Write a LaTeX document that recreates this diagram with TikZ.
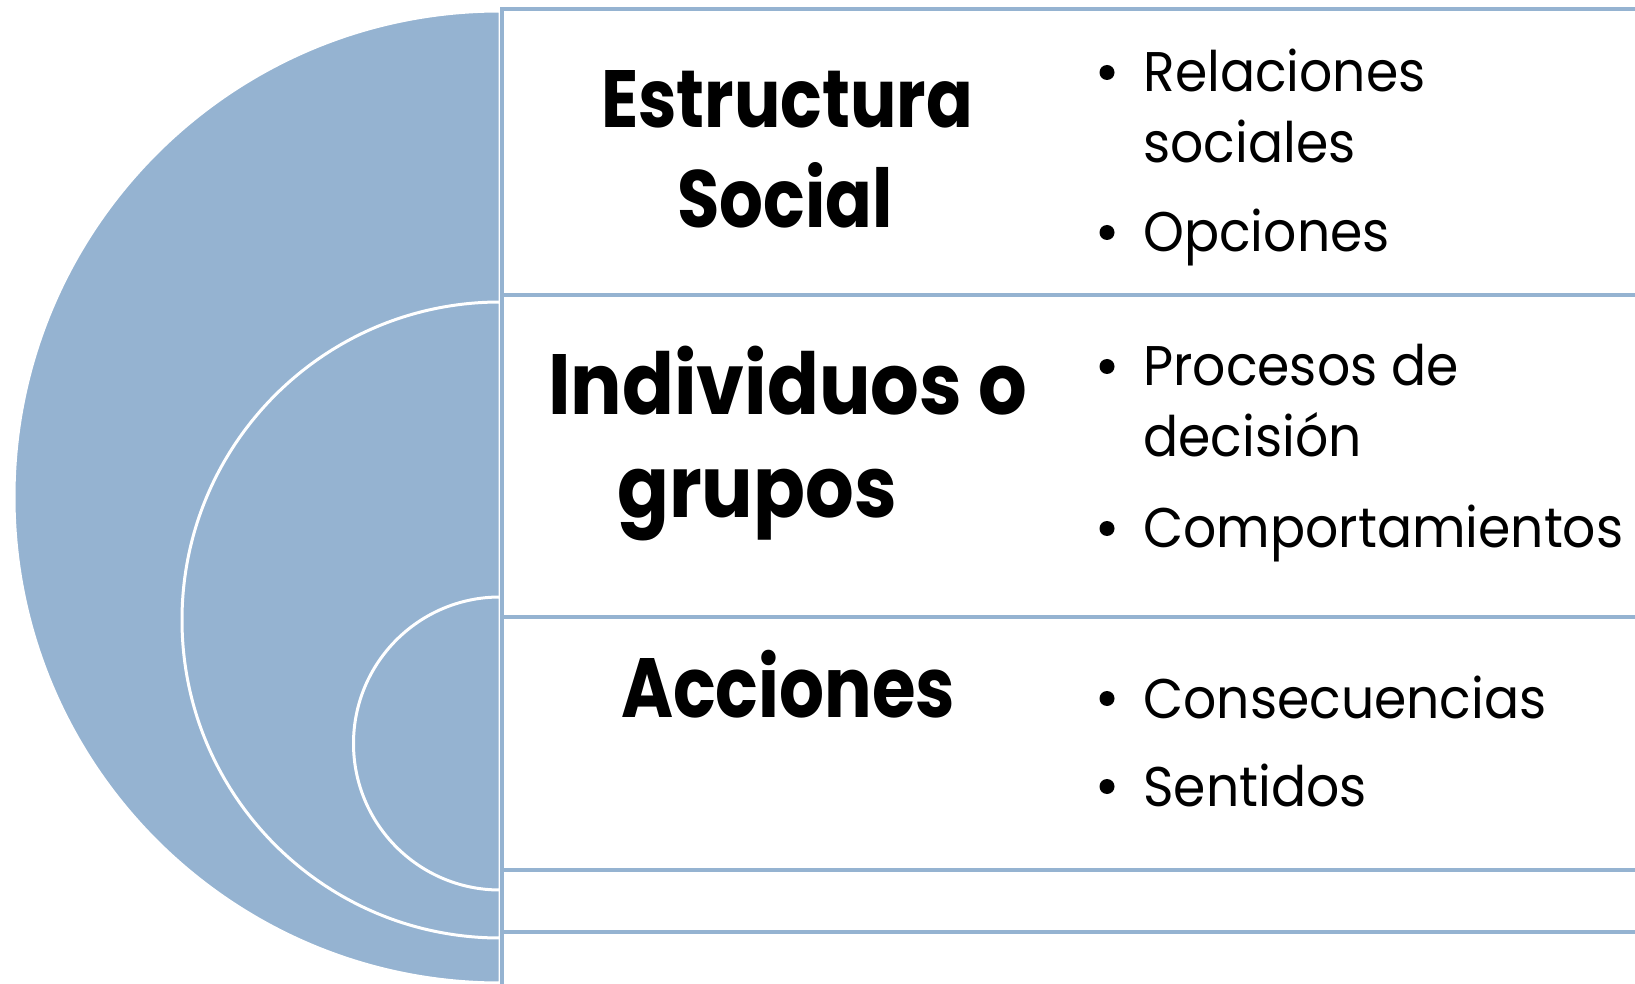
\documentclass[tikz,border=0pt]{standalone}
\usepackage{fontspec}
\setmainfont{Poppins}
\usepackage{graphicx}
\definecolor{tblue}{RGB}{149,179,209}
\newsavebox\measbx
\newcommand\ttlfont{\bfseries\fontsize{40}{48}\selectfont}
\newcommand\bulfont{\fontsize{28}{34}\selectfont}
\newcommand\TA[1]{\scalebox{\axA}[\ayA]{\ttlfont #1}}
\newcommand\TB[1]{\scalebox{\axB}[\ayB]{\ttlfont #1}}
\newcommand\TC[1]{\scalebox{\axC}[\ayC]{\ttlfont #1}}
\newcommand\BL[1]{\scalebox{\axD}[\ayD]{\bulfont #1}}
\begin{document}%
\sbox\measbx{\ttlfont E}\pgfmathsetmacro\capT{\the\ht\measbx}%
\sbox\measbx{\bulfont E}\pgfmathsetmacro\capB{\the\ht\measbx}%
\sbox\measbx{\ttlfont Estructura}\pgfmathsetmacro\wA{\the\wd\measbx}%
\sbox\measbx{\ttlfont Individuos o}\pgfmathsetmacro\wB{\the\wd\measbx}%
\sbox\measbx{\ttlfont Acciones}\pgfmathsetmacro\wC{\the\wd\measbx}%
\sbox\measbx{\bulfont Comportamientos}\pgfmathsetmacro\wD{\the\wd\measbx}%
\pgfmathsetmacro\axA{186/\wA}\pgfmathsetmacro\ayA{28.5/\capT}%
\pgfmathsetmacro\axB{239.5/\wB}\pgfmathsetmacro\ayB{30/\capT}%
\pgfmathsetmacro\axC{167/\wC}\pgfmathsetmacro\ayC{29.5/\capT}%
\pgfmathsetmacro\axD{240/\wD}\pgfmathsetmacro\ayD{19.5/\capB}%
\begin{tikzpicture}[x=0.5pt,y=-0.5pt,
  disk/.style={fill=tblue,draw=white,line width=1.5pt},
  box/.style={fill=white,draw=tblue,line width=1.75pt},
  ttl/.style={anchor=base,inner sep=0pt},
  bul/.style={anchor=base west,inner sep=0pt},
  dot/.style={circle,fill=black,inner sep=0pt,minimum size=7.5pt}]
\useasboundingbox (0,0) rectangle (1635,984);
\clip (0,0) rectangle (1635,984);
% half disks
\draw[disk] (500,497) ++(0,486) arc[start angle=90,end angle=270,radius=486] -- cycle;
\draw[disk] (500,620) ++(0,318) arc[start angle=90,end angle=270,radius=318] -- cycle;
\draw[disk] (500,743.5) ++(0,146.5) arc[start angle=90,end angle=270,radius=146.5] -- cycle;
% boxes
\draw[box] (502,9) rectangle (1700,1100);
\draw[box] (502,295) rectangle (1700,932);
\draw[box] (502,617) rectangle (1700,870);
% titles
\node[ttl] (t1) at (787,128) {\TA{Estructura}};
\node[ttl] (t2) at (785,228) {\TA{Social}};
\node[ttl] (t3) at (787.5,415) {\TB{Individuos o}};
\node[ttl] (t4) at (757,517) {\TB{grupos}};
\node[ttl] (t5) at (788,717) {\TC{Acciones}};
% bullets
\node[bul] (b1) at (1143,92) {\BL{Relaciones}};
\node[bul] (b1b) at (1143,163) {\BL{sociales}};
\node[bul] (b2) at (1143,252) {\BL{Opciones}};
\node[bul] (b3) at (1143,386) {\BL{Procesos de}};
\node[bul] (b3b) at (1143,457) {\BL{decisión}};
\node[bul] (b4) at (1143,548) {\BL{Comportamientos}};
\node[bul] (b5) at (1143,718) {\BL{Consecuencias}};
\node[bul] (b6) at (1143,806) {\BL{Sentidos}};
\node[dot] (d1) at (1107,72.5) {};
\node[dot] (d2) at (1107,232.5) {};
\node[dot] (d3) at (1107,366.5) {};
\node[dot] (d4) at (1107,528.5) {};
\node[dot] (d5) at (1107,698.5) {};
\node[dot] (d6) at (1107,786.5) {};
\end{tikzpicture}%
\end{document}
